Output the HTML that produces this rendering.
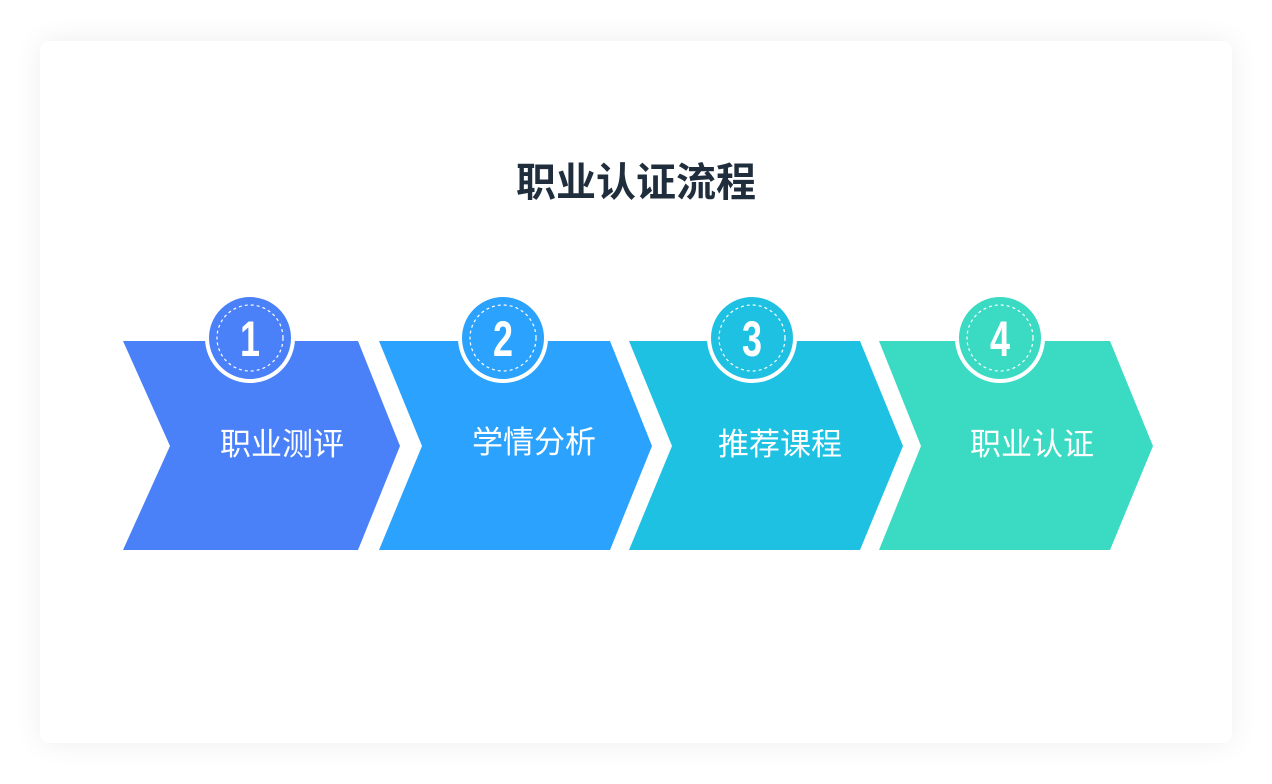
<!DOCTYPE html>
<html><head><meta charset="utf-8"><style>
body{margin:0;width:1272px;height:784px;background:#fff;overflow:hidden;font-family:"Liberation Sans","Noto Sans CJK SC",sans-serif}
.card{position:absolute;left:40px;top:41px;width:1192px;height:702px;background:#fff;border-radius:10px;box-shadow:0 0 30px rgba(0,0,0,0.07)}
.t{position:absolute;left:0;width:1272px;top:156px;text-align:center;font-size:40px;font-weight:bold;color:#1f2d3d;line-height:54px}
svg{position:absolute;left:0;top:0}
</style></head><body>
<div class="card"></div>
<div class="t">职业认证流程</div>
<svg width="1272" height="784" font-family="Liberation Sans, Noto Sans CJK SC, sans-serif">
<polygon points="123,341 358,341 400,446 358,550 123,550 170,446" fill="#4a80f8"/>
<polygon points="379,341 610,341 652,446 610,550 379,550 422,446" fill="#2ba2fd"/>
<polygon points="629,341 860,341 903,446 860,550 629,550 672,446" fill="#1fc1e3"/>
<polygon points="879,341 1110,341 1153,446 1110,550 879,550 921,446" fill="#3bdac3"/>
<g fill="#fff" font-size="31" text-anchor="middle">
<text x="282" y="455">职业测评</text>
<text x="534" y="453">学情分析</text>
<text x="780" y="455">推荐课程</text>
<text x="1032" y="455">职业认证</text>
</g>
<g stroke="#fff">
<circle cx="250" cy="338" r="43" fill="#4a80f8" stroke-width="4"/>
<circle cx="503" cy="338" r="43" fill="#2ba2fd" stroke-width="4"/>
<circle cx="752" cy="338" r="43" fill="#1fc1e3" stroke-width="4"/>
<circle cx="1000" cy="338" r="43" fill="#3bdac3" stroke-width="4"/>
<g fill="none" stroke-width="1.2" stroke-dasharray="3 3">
<circle cx="250" cy="338" r="33"/><circle cx="503" cy="338" r="33"/><circle cx="752" cy="338" r="33"/><circle cx="1000" cy="338" r="33"/>
</g></g>
<g fill="#fff" font-size="50" font-weight="bold" text-anchor="middle">
<text transform="translate(250 356) scale(0.72 1)">1</text>
<text transform="translate(503 356) scale(0.72 1)">2</text>
<text transform="translate(752 356) scale(0.72 1)">3</text>
<text transform="translate(1000 356) scale(0.72 1)">4</text>
</g>
</svg>
</body></html>
